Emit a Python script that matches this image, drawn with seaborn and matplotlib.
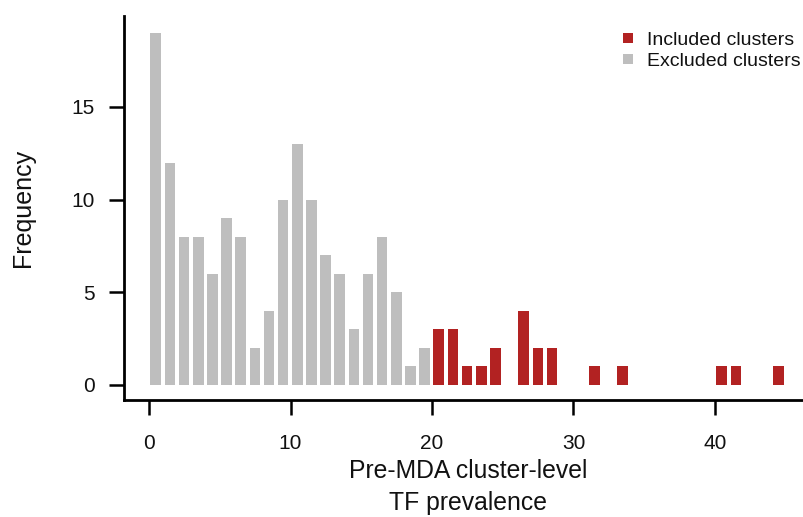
import matplotlib
matplotlib.use("Agg")
import matplotlib.pyplot as plt
import seaborn as sns
import pandas as pd
from matplotlib.lines import Line2D

# ---- data ----
excluded_bins = list(range(0, 20))
excluded_counts = [19, 12, 8, 8, 6, 9, 8, 2, 4, 10, 13, 10, 7, 6, 3, 6, 8, 5, 1, 2]
included_bins = [20, 21, 22, 23, 24, 26, 27, 28, 31, 33, 40, 41, 44]
included_counts = [3, 3, 1, 1, 2, 4, 2, 2, 1, 1, 1, 1, 1]
groups = ["Included clusters", "Excluded clusters"]
group_colors = ["#B22222", "#BEBEBE"]
x_ticks = [0, 10, 20, 30, 40]
y_ticks = [0, 5, 10, 15]
x_label = "Pre-MDA cluster-level\nTF prevalence"
y_label = "Frequency"

df = pd.DataFrame({
    "bin": excluded_bins + included_bins,
    "count": excluded_counts + included_counts,
    "group": [groups[1]] * len(excluded_bins) + [groups[0]] * len(included_bins),
})
df["center"] = df["bin"] + 0.48

sns.set_theme(style="ticks")
plt.rcParams["font.family"] = ["Liberation Sans", "DejaVu Sans"]

W, H = 804, 517
fig = plt.figure(figsize=(W / 100, H / 100), dpi=100)
ax = fig.add_axes([124 / W, 1 - 400 / H, 680 / W, 384 / H])

palette = dict(zip(groups, group_colors))
sns.barplot(data=df, x="center", y="count", hue="group", palette=palette,
            native_scale=True, dodge=False, width=0.75, saturation=1,
            errorbar=None, legend=False, linewidth=0, ax=ax)

ax.set_xlim(-1.767, 46.29)
ax.set_ylim(-0.81, 19.91)
ax.set_xticks(x_ticks)
ax.set_xticklabels([str(t) for t in x_ticks])
ax.set_yticks(y_ticks)
ax.set_yticklabels([str(t) for t in y_ticks])
ax.set_xlabel("")
ax.set_ylabel("")

for side in ["top", "right"]:
    ax.spines[side].set_visible(False)
for side in ["left", "bottom"]:
    ax.spines[side].set_linewidth(2.0)
    ax.spines[side].set_color("black")
    ax.spines[side].set_capstyle("projecting")

ax.tick_params(axis="both", length=10.8, width=1.8, color="black",
               labelsize=15, labelcolor="#111111")
ax.tick_params(axis="x", pad=14)
ax.tick_params(axis="y", pad=10.5)

fig.text(468 / W, 1 - 487 / H, x_label, ha="center", va="center",
         fontsize=17.8, linespacing=1.4, color="#111111")
fig.text(23 / W, 1 - 207.5 / H, y_label, ha="center", va="center",
         rotation=90, fontsize=18, color="#111111")

handles = [Line2D([0], [0], marker="s", linestyle="none", markersize=6.5,
                  markerfacecolor=c, markeredgewidth=0) for c in group_colors]
fig.legend(handles, groups, loc="upper left",
           bbox_to_anchor=(622 / W, 1 - 31 / H), frameon=False,
           fontsize=14, borderpad=0, borderaxespad=0, handlelength=0.6,
           handletextpad=0.7, labelspacing=0.2, labelcolor="#111111")

fig.savefig("out.png", dpi=100)
